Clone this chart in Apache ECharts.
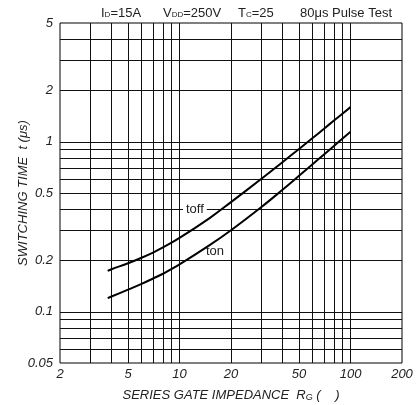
<!DOCTYPE html>
<html>
<head>
<meta charset="utf-8">
<script src="https://cdn.jsdelivr.net/npm/echarts@6/dist/echarts.min.js"></script>
<style>
  html, body { margin: 0; padding: 0; background: #fff; }
  #chart { width: 417px; height: 405px; }
</style>
</head>
<body>
<div id="chart"></div>
<script>
// resistance values (ohm) where the curves were read
const rg = [3.8, 4, 5, 6, 7, 8, 10, 15, 20, 30, 40, 50, 60, 70, 80, 100];
// switching times (us)
const toff = [0.174, 0.178, 0.193, 0.208, 0.223, 0.239, 0.272, 0.356, 0.442, 0.604, 0.759, 0.908, 1.052, 1.194, 1.334, 1.6];
const ton = [0.1205, 0.123, 0.135, 0.146, 0.157, 0.1675, 0.19, 0.2466, 0.3017, 0.412, 0.522, 0.631, 0.738, 0.843, 0.946, 1.148];

// grid lines and tick labels
const xGrid = [3, 4, 5, 6, 7, 8, 9, 10, 20, 30, 40, 50, 60, 70, 80, 90, 100];
const yGrid = [4, 3, 2, 1, 0.9, 0.8, 0.7, 0.6, 0.5, 0.4, 0.3, 0.2, 0.1, 0.09, 0.08, 0.07, 0.06];
const xTicks = [2, 5, 10, 20, 50, 100, 200];
const yTicks = [0.05, 0.1, 0.2, 0.5, 1, 2, 5];

const font = '"Liberation Sans", Arial, sans-serif';
const chart = echarts.init(document.getElementById('chart'));

const tickLabel = {
  fontFamily: font,
  fontStyle: 'italic',
  fontSize: 13,
  color: '#222',
  formatter: v => String(+(+v).toPrecision(3)),
};
const sub = { fontSize: 8, fontFamily: font, padding: [3, 0, 0, 0] };

const option = {
  animation: false,
  grid: {
    left: 60, right: 15, top: 23, bottom: 42,
    outerBoundsMode: 'none',
    containLabel: false,
    show: true, borderColor: '#000', borderWidth: 1,
  },
  xAxis: {
    type: 'log', logBase: 10, min: 2, max: 200,
    name: 'SERIES GATE IMPEDANCE  R{s|G} (    )',
    nameLocation: 'middle', nameGap: 26, nameMoveOverlap: false,
    nameTextStyle: {
      fontFamily: font, fontStyle: 'italic', fontSize: 13, color: '#222',
      rich: { s: { fontFamily: font, fontStyle: 'italic', fontSize: 9, color: '#222', padding: [4, 0, 0, 0] } },
    },
    axisLine: { show: false },
    axisTick: { show: false },
    splitLine: { show: false },
    axisLabel: Object.assign({ customValues: xTicks, margin: 5, showMinLabel: true, showMaxLabel: true }, tickLabel),
  },
  yAxis: {
    type: 'log', logBase: 10, min: 0.05, max: 5,
    name: 'SWITCHING TIME  t (μs)',
    nameLocation: 'middle', nameGap: 30, nameMoveOverlap: false,
    nameTextStyle: { fontFamily: font, fontStyle: 'italic', fontSize: 13, color: '#222' },
    axisLine: { show: false },
    axisTick: { show: false },
    splitLine: { show: false },
    axisLabel: Object.assign({ customValues: yTicks, margin: 7, showMinLabel: true, showMaxLabel: true }, tickLabel),
  },
  graphic: [
    { type: 'text', left: 101, top: 7, style: { text: 'I{s|D}=15A', font: '13px ' + font, fill: '#222', rich: { s: sub } } },
    { type: 'text', left: 163, top: 7, style: { text: 'V{s|DD}=250V', font: '13px ' + font, fill: '#222', rich: { s: sub } } },
    { type: 'text', left: 238, top: 7, style: { text: 'T{s|C}=25', font: '13px ' + font, fill: '#222', rich: { s: sub } } },
    { type: 'text', left: 300, top: 7, style: { text: '80μs Pulse Test', font: '13px ' + font, fill: '#222' } },
    { type: 'text', left: 183, top: 203, z: 10, style: { text: 'toff', font: '13px ' + font, fill: '#222', backgroundColor: '#fff', padding: [0, 3] } },
    { type: 'text', left: 206, top: 245, z: 10, style: { text: 'ton', font: '13px ' + font, fill: '#222' } },
  ],
  series: [
    {
      type: 'line', silent: true, data: [],
      markLine: {
        silent: true, symbol: 'none', animation: false,
        label: { show: false },
        lineStyle: { color: '#111', width: 1, type: 'solid' },
        data: xGrid.map(v => ({ xAxis: v })).concat(yGrid.map(v => ({ yAxis: v }))),
      },
    },
    {
      name: 'toff', type: 'line', smooth: 0.4, showSymbol: false, z: 5,
      lineStyle: { color: '#000', width: 2 },
      data: rg.map((x, i) => [x, toff[i]]),
    },
    {
      name: 'ton', type: 'line', smooth: 0.4, showSymbol: false, z: 5,
      lineStyle: { color: '#000', width: 2 },
      data: rg.map((x, i) => [x, ton[i]]),
    },
  ],
};
chart.setOption(option);
</script>
</body>
</html>
